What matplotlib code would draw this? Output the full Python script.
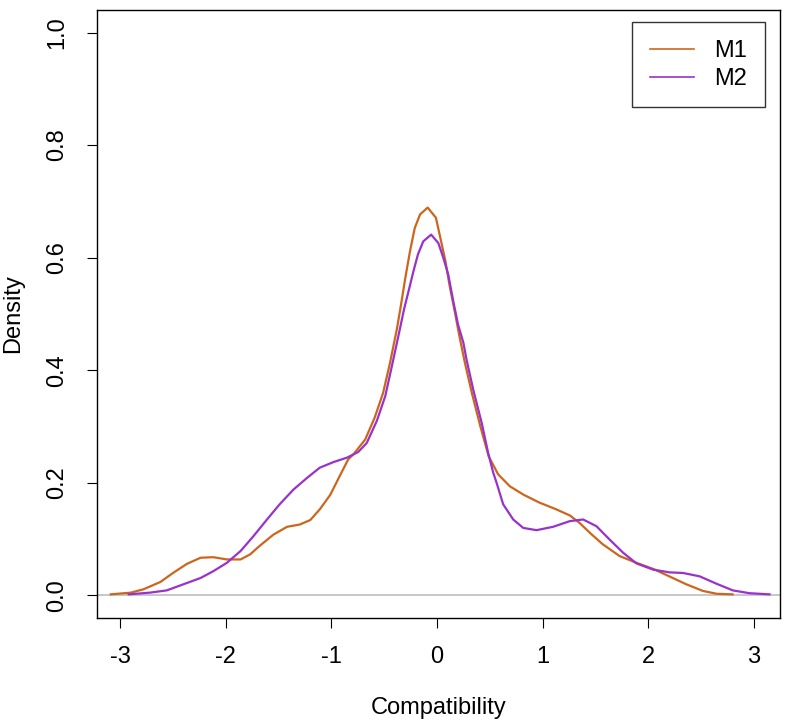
import matplotlib.pyplot as plt
from matplotlib.lines import Line2D

plt.rcParams['font.family'] = ['Liberation Sans', 'DejaVu Sans']
plt.rcParams['axes.unicode_minus'] = False

# density curves
m1_x = [-3.09, -2.90, -2.78, -2.62, -2.50, -2.37, -2.24, -2.12, -1.99, -1.86,
        -1.77, -1.68, -1.55, -1.42, -1.30, -1.20, -1.11, -1.01, -0.93, -0.84,
        -0.79, -0.68, -0.59, -0.51, -0.445, -0.38, -0.34, -0.30, -0.255, -0.21,
        -0.16, -0.088, -0.01, 0.03, 0.08, 0.12, 0.17, 0.21, 0.265, 0.33,
        0.41, 0.49, 0.58, 0.69, 0.82, 0.97, 1.13, 1.26, 1.35, 1.45,
        1.57, 1.73, 1.89, 2.05, 2.20, 2.36, 2.52, 2.65, 2.80]
m1_y = [0.002, 0.005, 0.011, 0.024, 0.040, 0.056, 0.067, 0.068, 0.064, 0.064,
        0.073, 0.088, 0.108, 0.122, 0.126, 0.134, 0.153, 0.179, 0.209, 0.242,
        0.251, 0.277, 0.316, 0.360, 0.413, 0.473, 0.517, 0.564, 0.612, 0.653,
        0.677, 0.689, 0.671, 0.637, 0.594, 0.550, 0.503, 0.463, 0.413, 0.360,
        0.301, 0.247, 0.215, 0.194, 0.179, 0.165, 0.153, 0.142, 0.129, 0.111,
        0.091, 0.070, 0.058, 0.047, 0.034, 0.020, 0.008, 0.003, 0.002]

m2_x = [-2.92, -2.72, -2.56, -2.40, -2.24, -2.12, -1.99, -1.86, -1.74, -1.61,
        -1.49, -1.36, -1.23, -1.11, -0.98, -0.85, -0.745, -0.665, -0.57, -0.49,
        -0.43, -0.37, -0.31, -0.27, -0.22, -0.18, -0.13, -0.055, 0.013, 0.06,
        0.107, 0.154, 0.20, 0.25, 0.28, 0.343, 0.423, 0.485, 0.533, 0.565,
        0.627, 0.722, 0.817, 0.943, 1.10, 1.258, 1.384, 1.511, 1.637, 1.763,
        1.889, 2.046, 2.204, 2.33, 2.488, 2.646, 2.803, 2.961, 3.15]
m2_y = [0.002, 0.005, 0.009, 0.020, 0.031, 0.043, 0.058, 0.079, 0.105, 0.135,
        0.162, 0.188, 0.209, 0.227, 0.237, 0.245, 0.255, 0.271, 0.310, 0.354,
        0.405, 0.457, 0.510, 0.540, 0.578, 0.606, 0.629, 0.641, 0.626, 0.600,
        0.570, 0.523, 0.481, 0.449, 0.419, 0.366, 0.307, 0.253, 0.218, 0.200,
        0.162, 0.135, 0.120, 0.116, 0.122, 0.132, 0.135, 0.123, 0.099, 0.076,
        0.057, 0.046, 0.041, 0.040, 0.034, 0.021, 0.009, 0.004, 0.002]

labels = ['M1', 'M2']
colors = ['#CD661D', '#9932CC']

fig = plt.figure(figsize=(7.87, 7.25), dpi=100)
ax = fig.add_axes([0.1233, 0.1476, 0.8679, 0.8386])

ax.axhline(0, color='#BEBEBE', lw=1.2, zorder=1)
ax.plot(m1_x, m1_y, color=colors[0], lw=1.6, solid_joinstyle='round', zorder=2)
ax.plot(m2_x, m2_y, color=colors[1], lw=1.6, solid_joinstyle='round', zorder=3)

ax.set_xlim(-3.22, 3.25)
ax.set_ylim(-0.04, 1.04)
ax.set_xticks([-3, -2, -1, 0, 1, 2, 3])
ax.set_yticks([0.0, 0.2, 0.4, 0.6, 0.8, 1.0])
ax.set_yticklabels(['0.0', '0.2', '0.4', '0.6', '0.8', '1.0'], rotation=90, va='center')
ax.tick_params(length=7, width=0.8, labelsize=17)
ax.tick_params(axis='x', pad=13)
ax.tick_params(axis='y', pad=14)
for s in ax.spines.values():
    s.set_linewidth(1.0)

ax.set_xlabel('Compatibility', fontsize=17, labelpad=21)
ax.set_ylabel('Density', fontsize=17, labelpad=16)

handles = [Line2D([], [], color=c, lw=1.2) for c in colors]
leg = ax.legend(handles, labels, loc='upper right', bbox_to_anchor=(0.978, 0.980),
                fancybox=False, edgecolor='black', fontsize=17,
                handlelength=1.9, handletextpad=0.85, borderpad=0.75,
                labelspacing=0.25, borderaxespad=0)
leg.get_frame().set_linewidth(1.0)

plt.savefig('out.png', dpi=100)
